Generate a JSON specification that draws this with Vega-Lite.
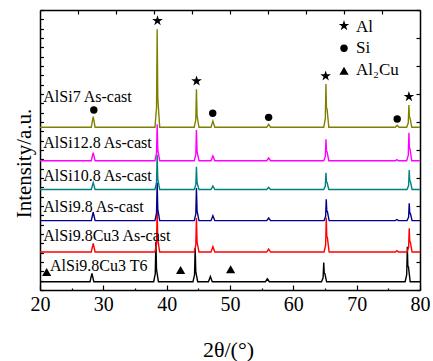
{
  "$schema": "https://vega.github.io/schema/vega-lite/v6.json",
  "width": 380,
  "height": 280,
  "autosize": "none",
  "padding": {"left": 40, "top": 10, "right": 13, "bottom": 71},
  "background": "white",
  "config": {
    "view": {"stroke": null},
    "axis": {"grid": false, "domainColor": "black", "domainWidth": 1.5, "tickColor": "black", "tickWidth": 1.2, "labelColor": "black", "titleColor": "black", "labelFont": "Liberation Serif", "titleFont": "Liberation Serif", "titleFontWeight": "normal"}
  },
  "datasets": {
    "lines": [
      {"s":"a","x":20,"y":0.89},{"s":"a","x":27.9,"y":0.89},{"s":"a","x":28.2,"y":1.79},{"s":"a","x":28.5,"y":0.89},
      {"s":"a","x":37.95,"y":0.89},{"s":"a","x":38.2,"y":1.75},{"s":"a","x":38.3,"y":5.18},{"s":"a","x":38.4,"y":2.18},{"s":"a","x":38.7,"y":0.89},
      {"s":"a","x":44.15,"y":0.89},{"s":"a","x":44.4,"y":1.61},{"s":"a","x":44.5,"y":4.5},{"s":"a","x":44.6,"y":1.97},{"s":"a","x":44.9,"y":0.89},
      {"s":"a","x":46.6,"y":0.89},{"s":"a","x":46.9,"y":1.45},{"s":"a","x":47.2,"y":0.89},
      {"s":"a","x":55.6,"y":0.89},{"s":"a","x":55.9,"y":1.2},{"s":"a","x":56.2,"y":0.89},
      {"s":"a","x":64.45,"y":0.89},{"s":"a","x":64.7,"y":1.3},{"s":"a","x":64.8,"y":2.93},{"s":"a","x":64.88,"y":1.81},{"s":"a","x":64.98,"y":1.75},{"s":"a","x":65.25,"y":0.89},
      {"s":"a","x":77.65,"y":0.89},{"s":"a","x":77.9,"y":1.64},{"s":"a","x":78.0,"y":4.64},{"s":"a","x":78.08,"y":2.58},{"s":"a","x":78.18,"y":2.47},{"s":"a","x":78.45,"y":0.89},{"s":"a","x":80,"y":0.89},

      {"s":"b","x":20,"y":4.07},{"s":"b","x":28.1,"y":4.07},{"s":"b","x":28.4,"y":5.0},{"s":"b","x":28.7,"y":4.07},
      {"s":"b","x":38.15,"y":4.07},{"s":"b","x":38.4,"y":4.97},{"s":"b","x":38.5,"y":8.57},{"s":"b","x":38.6,"y":5.42},{"s":"b","x":38.9,"y":4.07},
      {"s":"b","x":44.35,"y":4.07},{"s":"b","x":44.6,"y":4.8},{"s":"b","x":44.7,"y":7.7},{"s":"b","x":44.8,"y":5.16},{"s":"b","x":45.1,"y":4.07},
      {"s":"b","x":47.0,"y":4.07},{"s":"b","x":47.3,"y":4.64},{"s":"b","x":47.6,"y":4.07},
      {"s":"b","x":55.8,"y":4.07},{"s":"b","x":56.1,"y":4.39},{"s":"b","x":56.4,"y":4.07},
      {"s":"b","x":64.85,"y":4.07},{"s":"b","x":65.1,"y":4.81},{"s":"b","x":65.2,"y":7.75},{"s":"b","x":65.28,"y":5.73},{"s":"b","x":65.38,"y":5.62},{"s":"b","x":65.65,"y":4.07},
      {"s":"b","x":76.1,"y":4.07},{"s":"b","x":76.35,"y":4.22},{"s":"b","x":76.6,"y":4.07},
      {"s":"b","x":77.95,"y":4.07},{"s":"b","x":78.2,"y":4.58},{"s":"b","x":78.3,"y":6.61},{"s":"b","x":78.38,"y":5.21},{"s":"b","x":78.48,"y":5.14},{"s":"b","x":78.75,"y":4.07},{"s":"b","x":80,"y":4.07},

      {"s":"c","x":20,"y":7.43},{"s":"c","x":28.1,"y":7.43},{"s":"c","x":28.4,"y":8.33},{"s":"c","x":28.7,"y":7.43},
      {"s":"c","x":38.15,"y":7.43},{"s":"c","x":38.4,"y":8.24},{"s":"c","x":38.5,"y":11.5},{"s":"c","x":38.6,"y":8.65},{"s":"c","x":38.9,"y":7.43},
      {"s":"c","x":44.35,"y":7.43},{"s":"c","x":44.6,"y":8.13},{"s":"c","x":44.7,"y":10.93},{"s":"c","x":44.8,"y":8.48},{"s":"c","x":45.1,"y":7.43},
      {"s":"c","x":47.0,"y":7.43},{"s":"c","x":47.3,"y":7.96},{"s":"c","x":47.6,"y":7.43},
      {"s":"c","x":55.8,"y":7.43},{"s":"c","x":56.1,"y":7.71},{"s":"c","x":56.4,"y":7.43},
      {"s":"c","x":64.85,"y":7.43},{"s":"c","x":65.1,"y":7.89},{"s":"c","x":65.2,"y":9.72},{"s":"c","x":65.28,"y":8.46},{"s":"c","x":65.38,"y":8.39},{"s":"c","x":65.65,"y":7.43},
      {"s":"c","x":76.1,"y":7.43},{"s":"c","x":76.35,"y":7.55},{"s":"c","x":76.6,"y":7.43},
      {"s":"c","x":77.95,"y":7.43},{"s":"c","x":78.2,"y":7.8},{"s":"c","x":78.3,"y":9.29},{"s":"c","x":78.38,"y":8.27},{"s":"c","x":78.48,"y":8.21},{"s":"c","x":78.75,"y":7.43},{"s":"c","x":80,"y":7.43},

      {"s":"d","x":20,"y":10.77},{"s":"d","x":28.1,"y":10.77},{"s":"d","x":28.4,"y":11.5},{"s":"d","x":28.7,"y":10.77},
      {"s":"d","x":38.15,"y":10.77},{"s":"d","x":38.4,"y":11.52},{"s":"d","x":38.5,"y":14.5},{"s":"d","x":38.6,"y":11.89},{"s":"d","x":38.9,"y":10.77},
      {"s":"d","x":44.35,"y":10.77},{"s":"d","x":44.6,"y":11.26},{"s":"d","x":44.7,"y":13.21},{"s":"d","x":44.8,"y":11.5},{"s":"d","x":45.1,"y":10.77},
      {"s":"d","x":47.0,"y":10.77},{"s":"d","x":47.3,"y":11.14},{"s":"d","x":47.6,"y":10.77},
      {"s":"d","x":55.8,"y":10.77},{"s":"d","x":56.1,"y":11.0},{"s":"d","x":56.4,"y":10.77},
      {"s":"d","x":64.8,"y":10.77},{"s":"d","x":65.05,"y":11.13},{"s":"d","x":65.15,"y":12.57},{"s":"d","x":65.23,"y":11.58},{"s":"d","x":65.33,"y":11.53},{"s":"d","x":65.6,"y":10.77},
      {"s":"d","x":77.95,"y":10.77},{"s":"d","x":78.2,"y":11.19},{"s":"d","x":78.3,"y":12.86},{"s":"d","x":78.38,"y":11.71},{"s":"d","x":78.48,"y":11.65},{"s":"d","x":78.75,"y":10.77},{"s":"d","x":80,"y":10.77},

      {"s":"e","x":20,"y":13.85},{"s":"e","x":28.1,"y":13.85},{"s":"e","x":28.4,"y":14.71},{"s":"e","x":28.7,"y":13.85},
      {"s":"e","x":38.15,"y":13.85},{"s":"e","x":38.4,"y":14.63},{"s":"e","x":38.5,"y":17.75},{"s":"e","x":38.6,"y":15.02},{"s":"e","x":38.9,"y":13.85},
      {"s":"e","x":44.35,"y":13.85},{"s":"e","x":44.6,"y":14.51},{"s":"e","x":44.7,"y":17.14},{"s":"e","x":44.8,"y":14.84},{"s":"e","x":45.1,"y":13.85},
      {"s":"e","x":47.0,"y":13.85},{"s":"e","x":47.3,"y":14.36},{"s":"e","x":47.6,"y":13.85},
      {"s":"e","x":55.8,"y":13.85},{"s":"e","x":56.1,"y":14.15},{"s":"e","x":56.4,"y":13.85},
      {"s":"e","x":64.8,"y":13.85},{"s":"e","x":65.05,"y":14.31},{"s":"e","x":65.15,"y":16.14},{"s":"e","x":65.23,"y":14.88},{"s":"e","x":65.33,"y":14.81},{"s":"e","x":65.6,"y":13.85},
      {"s":"e","x":76.1,"y":13.85},{"s":"e","x":76.35,"y":13.97},{"s":"e","x":76.6,"y":13.85},
      {"s":"e","x":77.9,"y":13.85},{"s":"e","x":78.15,"y":14.45},{"s":"e","x":78.25,"y":16.85},{"s":"e","x":78.33,"y":15.2},{"s":"e","x":78.43,"y":15.11},{"s":"e","x":78.7,"y":13.85},{"s":"e","x":80,"y":13.85},

      {"s":"f","x":20,"y":17.43},{"s":"f","x":28.1,"y":17.43},{"s":"f","x":28.4,"y":18.57},{"s":"f","x":28.7,"y":17.43},
      {"s":"f","x":38.15,"y":17.43},{"s":"f","x":38.4,"y":19.53},{"s":"f","x":38.5,"y":27.93},{"s":"f","x":38.6,"y":20.58},{"s":"f","x":38.9,"y":17.43},
      {"s":"f","x":44.35,"y":17.43},{"s":"f","x":44.6,"y":18.24},{"s":"f","x":44.7,"y":21.5},{"s":"f","x":44.8,"y":18.65},{"s":"f","x":45.1,"y":17.43},
      {"s":"f","x":47.0,"y":17.43},{"s":"f","x":47.3,"y":18.1},{"s":"f","x":47.6,"y":17.43},
      {"s":"f","x":55.8,"y":17.43},{"s":"f","x":56.1,"y":17.75},{"s":"f","x":56.4,"y":17.43},
      {"s":"f","x":64.8,"y":17.43},{"s":"f","x":65.05,"y":18.36},{"s":"f","x":65.15,"y":22.07},{"s":"f","x":65.23,"y":19.52},{"s":"f","x":65.33,"y":19.38},{"s":"f","x":65.6,"y":17.43},
      {"s":"f","x":76.1,"y":17.43},{"s":"f","x":76.4,"y":17.65},{"s":"f","x":76.7,"y":17.43},
      {"s":"f","x":77.9,"y":17.43},{"s":"f","x":78.15,"y":17.91},{"s":"f","x":78.25,"y":19.82},{"s":"f","x":78.33,"y":18.51},{"s":"f","x":78.43,"y":18.43},{"s":"f","x":78.7,"y":17.43},{"s":"f","x":80,"y":17.43}
    ],
    "marks": [
      {"x":38.55,"y":28.85,"m":"star"},{"x":44.72,"y":22.39,"m":"star"},{"x":65.1,"y":22.93,"m":"star"},{"x":78.25,"y":20.71,"m":"star"},
      {"x":28.5,"y":19.29,"m":"circle"},{"x":47.27,"y":18.93,"m":"circle"},{"x":56.1,"y":18.5,"m":"circle"},{"x":76.4,"y":18.32,"m":"circle"},
      {"x":21.05,"y":1.93,"m":"tri"},{"x":42.2,"y":2.14,"m":"tri"},{"x":50.1,"y":2.22,"m":"tri"},
      {"x":68.0,"y":28.32,"m":"star"},{"x":68.0,"y":25.9,"m":"circle"},{"x":68.0,"y":23.5,"m":"tri"}
    ],
    "labels": [
      {"x":20.52,"y":20.14,"t":"AlSi7 As-cast"},
      {"x":20.52,"y":15.18,"t":"AlSi12.8 As-cast"},
      {"x":20.52,"y":11.7,"t":"AlSi10.8 As-cast"},
      {"x":20.52,"y":8.4,"t":"AlSi9.8 As-cast"},
      {"x":20.52,"y":5.25,"t":"AlSi9.8Cu3 As-cast"},
      {"x":21.58,"y":2.04,"t":"AlSi9.8Cu3 T6"}
    ],
    "legend": [
      {"x":69.9,"y":27.67,"t":"Al"},
      {"x":69.9,"y":25.36,"t":"Si"},
      {"x":69.9,"y":23.04,"t":"Al₂Cu"}
    ]
  },
  "resolve": {"axis": {"x": "independent", "y": "independent"}},
  "layer": [
    {
      "data": {"name": "lines"},
      "mark": {"type": "line", "strokeWidth": 1.4, "interpolate": "linear"},
      "encoding": {
        "x": {"field": "x", "type": "quantitative", "scale": {"domain": [20, 80], "nice": false, "zero": false},
          "axis": {"orient": "bottom", "values": [20,25,30,35,40,45,50,55,60,65,70,75,80],
            "labelExpr": "datum.value % 10 === 0 ? datum.label : ''",
            "tickSize": {"condition": {"test": "datum.value % 10 === 0", "value": -5}, "value": -2},
            "labelFontSize": 20, "labelBaseline": "alphabetic", "labelPadding": 25, "labelFlush": false,
            "title": "2θ/(°)", "titleFontSize": 22, "titleX": 188, "titleY": 66, "titleBaseline": "alphabetic", "titleAnchor": "middle"}},
        "y": {"field": "y", "type": "quantitative", "scale": {"domain": [0, 30], "nice": false, "zero": false},
          "axis": {"orient": "left", "values": [0,1,2,3,4,5,6,7,8,9,10,11,12,13,14,15,16,17,18,19,20,21,22,23,24,25,26,27,28,29,30],
            "labels": false, "tickSize": -3.5,
            "title": "Intensity/a.u.", "titleFontSize": 21, "titleX": -10, "titleY": 153, "titleAngle": -90, "titleBaseline": "alphabetic", "titleAlign": "center"}},
        "color": {"field": "s", "type": "nominal", "scale": {"domain": ["a","b","c","d","e","f"], "range": ["#000000","#ff0000","#00008b","#008080","#ff00ff","#808000"]}, "legend": null}
      }
    },
    {
      "data": {"name": "marks"},
      "mark": {"type": "point", "filled": true, "color": "black", "opacity": 1, "strokeWidth": 0},
      "encoding": {
        "x": {"field": "x", "type": "quantitative",
          "axis": {"orient": "top", "values": [26,32,38,44,50,56,62,68,74], "labels": false, "tickSize": -4, "title": null}},
        "y": {"field": "y", "type": "quantitative",
          "axis": {"orient": "right", "values": [0,3,6,9,12,15,18,21,24,27,30], "labels": false, "tickSize": -4, "title": null}},
        "shape": {"field": "m", "type": "nominal", "scale": {"domain": ["star","circle","tri"], "range": ["M0,-1L0.225,-0.309L0.951,-0.309L0.363,0.118L0.588,0.809L0,0.382L-0.588,0.809L-0.363,0.118L-0.951,-0.309L-0.225,-0.309Z", "circle", "triangle-up"]}, "legend": null},
        "size": {"field": "m", "type": "nominal", "scale": {"type": "ordinal", "domain": ["star","circle","tri"], "range": [125, 55, 85]}, "legend": null}
      }
    },
    {
      "data": {"name": "labels"},
      "mark": {"type": "text", "font": "Liberation Serif", "fontSize": 16, "align": "left", "baseline": "alphabetic", "color": "black"},
      "encoding": {
        "x": {"field": "x", "type": "quantitative", "axis": null},
        "y": {"field": "y", "type": "quantitative", "axis": null},
        "text": {"field": "t"}
      }
    },
    {
      "data": {"name": "legend"},
      "mark": {"type": "text", "font": "Liberation Serif", "fontSize": 17, "align": "left", "baseline": "alphabetic", "color": "black"},
      "encoding": {
        "x": {"field": "x", "type": "quantitative", "axis": null},
        "y": {"field": "y", "type": "quantitative", "axis": null},
        "text": {"field": "t"}
      }
    }
  ]
}
